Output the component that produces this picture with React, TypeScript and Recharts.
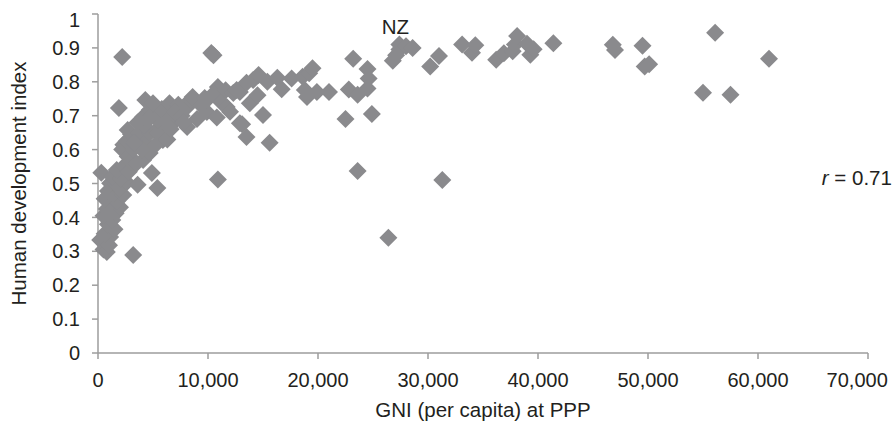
import { ScatterChart, Scatter, XAxis, YAxis, ReferenceDot } from 'recharts'

// GNI per capita at PPP (US$) and human development index, one entry per country
const gni = [
  300, 200, 500, 800, 1000, 1100, 600, 1500, 900, 1300,
  500, 1600, 800, 2000, 1100, 1700, 600, 1400, 2300, 900,
  1900, 1100, 1600, 2600, 1300, 2100, 1700, 2400, 3200, 3600,
  4900, 5400, 2800, 1000,
  2200, 1900, 2300, 2200, 2700, 3000, 3500, 4100, 4700, 3200,
  2600, 3500, 3000, 2700, 3800, 4300, 4700, 5400, 5900, 6300,
  5100, 4000, 5600, 4200, 3600, 4100, 4700, 5400, 4900, 6300,
  6800, 6000, 5800, 4300, 5000, 6500, 7300, 7000, 7600, 8100,
  8100, 8400, 8600, 9000, 9700, 9900, 9400, 7800, 6600, 3300,
  10300, 10500, 10900, 10500, 9900, 10800, 11200, 11700, 12000, 11600,
  12300, 12600, 12900, 13500, 13800, 13100, 13500, 12900, 14100, 14600,
  15000, 15600, 15400, 16300, 16700, 17600, 18600, 19200, 19500, 18800,
  19000, 19900, 21000, 22500, 22800, 23600, 23200, 24500, 24600, 24500,
  24900, 23600, 10900, 14500,
  26400, 26800, 27100, 27400, 27400, 28000, 28600, 30200, 31000, 31300,
  33100, 34000, 34300, 36200, 36900, 37700, 37900, 38100, 39000, 39300,
  39600, 41400, 46800, 47000, 49500, 49700, 50100, 55000, 56100, 57500,
  61000,
]

const hdi = [
  0.532, 0.333, 0.305, 0.298, 0.318, 0.342, 0.352, 0.365, 0.38, 0.392,
  0.405, 0.412, 0.425, 0.43, 0.442, 0.448, 0.455, 0.468, 0.466, 0.478,
  0.485, 0.501, 0.498, 0.504, 0.52, 0.515, 0.54, 0.552, 0.289, 0.496,
  0.531, 0.487, 0.535, 0.41,
  0.873, 0.723, 0.614, 0.6, 0.58, 0.565, 0.56, 0.569, 0.59, 0.6,
  0.625, 0.637, 0.645, 0.658, 0.649, 0.62, 0.649, 0.649, 0.628, 0.63,
  0.61, 0.6, 0.665, 0.672, 0.68, 0.696, 0.717, 0.687, 0.7, 0.708,
  0.678, 0.69, 0.72, 0.746, 0.737, 0.737, 0.732, 0.71, 0.7, 0.667,
  0.726, 0.746, 0.755, 0.69, 0.752, 0.711, 0.73, 0.68, 0.66, 0.62,
  0.885, 0.878, 0.785, 0.765, 0.746, 0.695, 0.74, 0.726, 0.712, 0.775,
  0.767, 0.776, 0.77, 0.797, 0.737, 0.675, 0.637, 0.678, 0.805, 0.82,
  0.702, 0.62, 0.8, 0.812, 0.778, 0.81, 0.815, 0.825, 0.84, 0.776,
  0.755, 0.77, 0.77, 0.69, 0.777, 0.762, 0.868, 0.838, 0.81, 0.78,
  0.705, 0.537, 0.512, 0.76,
  0.34, 0.862, 0.878, 0.895, 0.91, 0.905, 0.9, 0.845, 0.876, 0.51,
  0.91, 0.886, 0.908, 0.865, 0.884, 0.89, 0.91, 0.935, 0.912, 0.88,
  0.896, 0.914, 0.909, 0.894, 0.906, 0.845, 0.852, 0.768, 0.945, 0.762,
  0.868,
]

const xTicks = [0, 10000, 20000, 30000, 40000, 50000, 60000, 70000]
const yTicks = [0, 0.1, 0.2, 0.3, 0.4, 0.5, 0.6, 0.7, 0.8, 0.9, 1]

const namedCountry = { name: 'NZ', gni: 27400, hdi: 0.91 }
const correlation = { r: 0.71, gni: 65800, hdi: 0.515 }

const points = gni.map((g, i) => ({ gni: g, hdi: hdi[i] }))

const MARKER = '#8a8a8d'
const AXIS = '#9d9d9d'
const TEXT = '#231f20'
const FONT = '"Liberation Sans", Arial, Helvetica, sans-serif'

const WIDTH = 886
const HEIGHT = 421

// the chart runs to the right edge of the window, so drop the default body margin
// and pad the chart ourselves
if (typeof document !== 'undefined') {
  document.body.style.margin = '0'
}

function Diamond(props: any) {
  const { cx, cy } = props
  const r = 9
  return (
    <polygon
      points={`${cx},${cy - r} ${cx + r},${cy} ${cx},${cy + r} ${cx - r},${cy}`}
      fill={MARKER}
    />
  )
}

// x tick labels; the last one is pulled left so it stays inside the chart
function GniTick(props: any) {
  const { x, y, payload } = props
  const label = payload.value.toLocaleString('en-US')
  const halfWidth = label.length * 5.3
  const cx = Math.min(x, WIDTH - 5 - halfWidth)
  return (
    <text x={cx} y={y} dy="0.71em" textAnchor="middle" fill={TEXT} fontSize={20} fontFamily={FONT}>
      {label}
    </text>
  )
}

export default function App() {
  return (
    <div style={{ width: WIDTH, height: HEIGHT, padding: '8px 0 0 8px', fontFamily: FONT }}>
      <ScatterChart width={WIDTH} height={HEIGHT} margin={{ top: 6, right: 26, bottom: 0, left: 0 }}>
        <XAxis
          type="number"
          dataKey="gni"
          domain={[0, 70000]}
          ticks={xTicks}
          height={76}
          tickSize={6}
          tickMargin={14}
          stroke={AXIS}
          strokeWidth={1.5}
          tick={<GniTick />}
          label={{
            value: 'GNI (per capita) at PPP',
            position: 'insideBottom',
            offset: 12,
            fill: TEXT,
            fontSize: 20.5,
            fontFamily: FONT,
          }}
        />
        <YAxis
          type="number"
          dataKey="hdi"
          domain={[0, 1]}
          ticks={yTicks}
          width={90}
          tickSize={6}
          tickMargin={12}
          stroke={AXIS}
          strokeWidth={1.5}
          tick={{ fill: TEXT, fontSize: 20, fontFamily: FONT }}
          label={{
            value: 'Human development index',
            angle: -90,
            position: 'insideLeft',
            offset: 11,
            fill: TEXT,
            fontSize: 20.5,
            fontFamily: FONT,
            style: { textAnchor: 'middle' },
          }}
        />
        <Scatter data={points} shape={Diamond} isAnimationActive={false} />
        <ReferenceDot
          x={namedCountry.gni}
          y={namedCountry.hdi}
          r={0}
          shape={(p: any) => (
            <text x={p.cx - 4} y={p.cy - 11} textAnchor="middle" fill={TEXT} fontSize={20.5} fontFamily={FONT}>
              {namedCountry.name}
            </text>
          )}
        />
        <ReferenceDot
          x={correlation.gni}
          y={correlation.hdi}
          r={0}
          shape={(p: any) => (
            <text x={p.cx} y={p.cy + 7} fill={TEXT} fontSize={20.5} fontFamily={FONT}>
              <tspan fontStyle="italic">r</tspan>
              {` = ${correlation.r}`}
            </text>
          )}
        />
      </ScatterChart>
    </div>
  )
}
